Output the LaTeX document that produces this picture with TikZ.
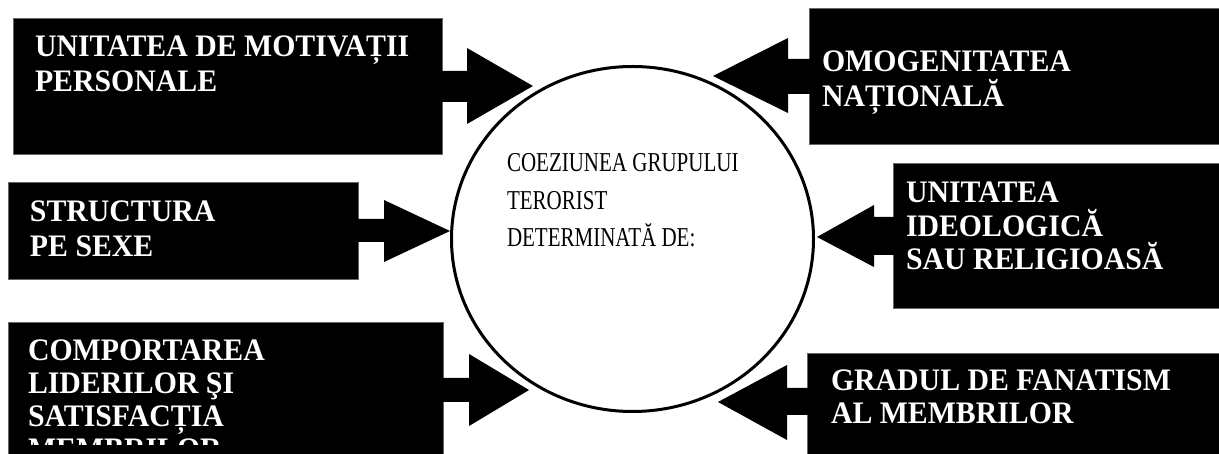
\documentclass[tikz,border=0pt]{standalone}
\usepackage{fontspec}
\setmainfont{Liberation Serif}
\usepackage{graphicx}
\usetikzlibrary{shapes.geometric}
% bold white text block: #1 = line distance (unscaled), #2 = lines as \hbox{...}
\newcommand\boldlines[2]{\scalebox{1}[1.05]{\vtop{\fontsize{29.8}{#1}\selectfont\bfseries\lineskiplimit=-100pt\baselineskip=#1pt\relax #2}}}
\newcommand\plainlines[2]{\scalebox{1}[1.3]{\vtop{\fontsize{21}{#1}\selectfont\lineskiplimit=-100pt\baselineskip=#1pt\relax #2}}}
\tikzset{
  blackbox/.style={fill=black, draw=black!60, line width=0.6pt},
  blockarrow/.style={fill=black},
  boxlabel/.style={text=white, anchor=base west, inner sep=0pt, outer sep=0pt},
  centrelabel/.style={text=black, anchor=base west, inner sep=0pt, outer sep=0pt},
  hub/.style={draw=black, fill=white, ellipse, line width=3pt, inner sep=0pt,
              minimum width=362pt, minimum height=345pt}
}
\begin{document}
\begin{tikzpicture}[x=1pt,y=-1pt]
\useasboundingbox (0,0) rectangle (1219,454);
\fill[white] (0,0) rectangle (1219,454);

% centre
\node[hub] (c) at (632.5,239) {};
\node[centrelabel] (ct) at (507,172) {\plainlines{28.8}{\hbox{COEZIUNEA GRUPULUI}\hbox{TERORIST}\hbox{DETERMINATĂ DE:}}};

% left boxes
\path[blackbox] (13,18) rectangle (442,154);
\path[blackbox] (8,182) rectangle (358,279);
\path[blackbox] (8,322) rectangle (443,460);
% right boxes
\path[blackbox] (809,8) rectangle (1225,144);
\path[blackbox] (893,163) rectangle (1225,308);
\path[blackbox] (807,353) rectangle (1225,460);

% left arrows (pointing right)
\fill[blockarrow] (441,71) -- (467,71) -- (467,48) -- (533,86) -- (467,124) -- (467,102) -- (441,102) -- cycle;
\fill[blockarrow] (357,219) -- (384,219) -- (384,200) -- (450,231) -- (384,262) -- (384,242) -- (357,242) -- cycle;
\fill[blockarrow] (442,378) -- (469,378) -- (469,354) -- (529,390) -- (469,426) -- (469,402) -- (442,402) -- cycle;
% right arrows (pointing left)
\fill[blockarrow] (810,59) -- (788,59) -- (788,38) -- (713,76) -- (788,113) -- (788,94) -- (810,94) -- cycle;
\fill[blockarrow] (894,217) -- (874,217) -- (874,205) -- (817,237) -- (874,267) -- (874,255) -- (894,255) -- cycle;
\fill[blockarrow] (808,388) -- (787,388) -- (787,365) -- (718,402) -- (787,440) -- (787,415) -- (808,415) -- cycle;

% labels
\node[boxlabel] (t1) at (35,57) {\boldlines{33.3}{\hbox{UNITATEA DE MOTIVAȚII}\hbox{PERSONALE}}};
\node[boxlabel] (t2) at (30,222) {\boldlines{33.3}{\hbox{STRUCTURA}\hbox{PE SEXE}}};
\begin{scope}
  \clip (0,0) rectangle (1219,444);
  \node[boxlabel] (t3) at (28,361) {\boldlines{31.4}{\hbox{COMPORTAREA}\hbox{LIDERILOR ŞI}\hbox{SATISFACȚIA}\hbox{MEMBRILOR}}};
\end{scope}
\node[boxlabel] (t4) at (822,72) {\boldlines{32.4}{\hbox{OMOGENITATEA}\hbox{NAȚIONALĂ}}};
\node[boxlabel] (t5) at (906,203) {\boldlines{31.9}{\hbox{UNITATEA}\hbox{IDEOLOGICĂ}\hbox{SAU RELIGIOASĂ}}};
\node[boxlabel] (t6) at (831,391) {\boldlines{31.4}{\hbox{GRADUL DE FANATISM}\hbox{AL MEMBRILOR}}};
\end{tikzpicture}
\end{document}
